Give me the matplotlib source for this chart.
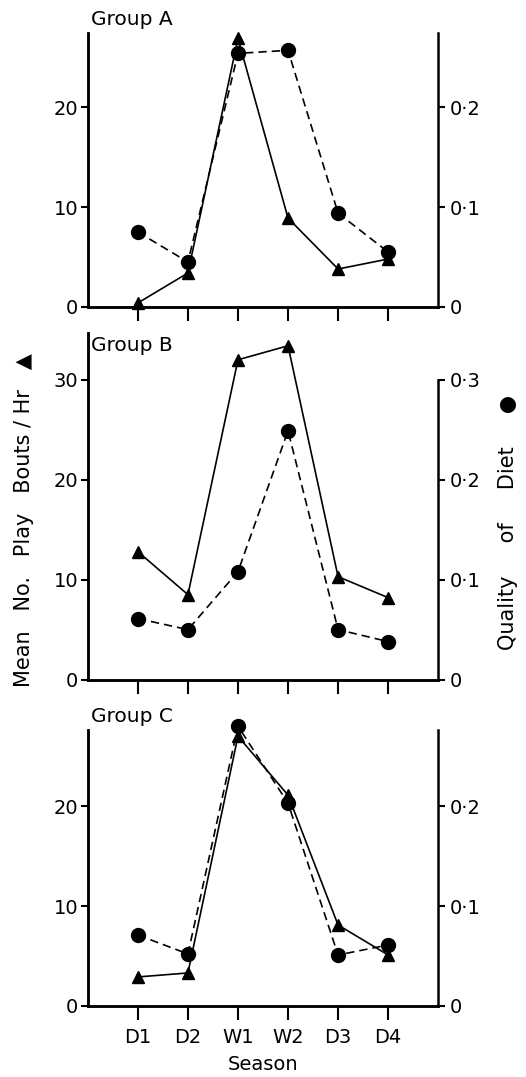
import matplotlib.pyplot as plt

seasons = ["D1", "D2", "W1", "W2", "D3", "D4"]

# play bouts per hour (triangles, left axis)
play_a = [0.4, 3.4, 26.9, 8.9, 3.8, 4.8]
play_b = [12.8, 8.5, 32.0, 33.4, 10.3, 8.2]
play_c = [2.9, 3.3, 27.0, 21.1, 8.1, 5.1]

# quality of diet (circles, right axis)
diet_a = [0.075, 0.045, 0.254, 0.257, 0.094, 0.055]
diet_b = [0.061, 0.050, 0.108, 0.249, 0.050, 0.038]
diet_c = [0.071, 0.052, 0.280, 0.203, 0.051, 0.061]

groups = ["Group A", "Group B", "Group C"]

plt.rcParams["font.family"] = "DejaVu Sans"
fig = plt.figure(figsize=(5.26, 10.77), dpi=100)

# axes rectangles (left, bottom, width, height) and y ranges
rects = [(0.167, 0.715, 0.666, 0.254),
         (0.167, 0.369, 0.666, 0.322),
         (0.167, 0.066, 0.666, 0.256)]
ytops = [27.4, 34.7, 27.6]
left_ticks = [[0, 10, 20], [0, 10, 20, 30], [0, 10, 20]]
right_ticks = [[0, 0.1, 0.2], [0, 0.1, 0.2, 0.3], [0, 0.1, 0.2]]
plays = [play_a, play_b, play_c]
diets = [diet_a, diet_b, diet_c]
x = list(range(len(seasons)))

for i in range(3):
    ax = fig.add_axes(rects[i])
    ax2 = ax.twinx()
    ax.set_xlim(-1, 6)
    ax.set_ylim(0, ytops[i])
    ax2.set_ylim(0, ytops[i] / 100)

    ax.plot(x, plays[i], color="black", lw=1.2, marker="^", ms=9, zorder=3, clip_on=False)
    ax2.plot(x, diets[i], color="black", lw=1.2, ls=(0, (5, 3)), marker="o", ms=10,
             zorder=3, clip_on=False)

    for a in (ax, ax2):
        a.spines["top"].set_visible(False)
        a.spines["left"].set_linewidth(1.8)
        a.spines["right"].set_linewidth(1.8)
        a.spines["bottom"].set_linewidth(1.8)
    ax.spines["right"].set_visible(False)
    if i == 1:
        ax2.spines["right"].set_bounds(0, 0.3)

    ax.set_yticks(left_ticks[i])
    ax.set_yticklabels([str(t) for t in left_ticks[i]])
    ax2.set_yticks(right_ticks[i])
    ax2.set_yticklabels(["0" if t == 0 else ("%.1f" % t).replace(".", "\u00b7") for t in right_ticks[i]])
    ax.tick_params(axis="y", direction="out", length=5, width=1.5, labelsize=14, pad=2)
    ax2.tick_params(axis="y", direction="out", length=5, width=1.5, labelsize=14, pad=3)

    ax.set_xticks(x)
    ax.tick_params(axis="x", direction="out", length=10, width=1.5, labelsize=14, pad=6)
    if i == 2:
        ax.set_xticklabels(seasons)
        ax.set_xlabel("Season", fontsize=14, labelpad=6)
    else:
        ax.set_xticklabels([])

    # group label
    if i == 1:
        ax.text(0.01, 0.99, groups[i], transform=ax.transAxes, fontsize=14.5, va="top", ha="left")
    else:
        ax.text(0.01, 1.015, groups[i], transform=ax.transAxes, fontsize=14.5, va="bottom", ha="left")

fig.text(0.045, 0.517, "Mean   No.   Play   Bouts / Hr   \u25b2", rotation=90, fontsize=15,
         ha="center", va="center")
fig.text(0.966, 0.515, "Quality     of     Diet     \u25cf", rotation=90, fontsize=15,
         ha="center", va="center")

fig.savefig("out.png", dpi=100)
